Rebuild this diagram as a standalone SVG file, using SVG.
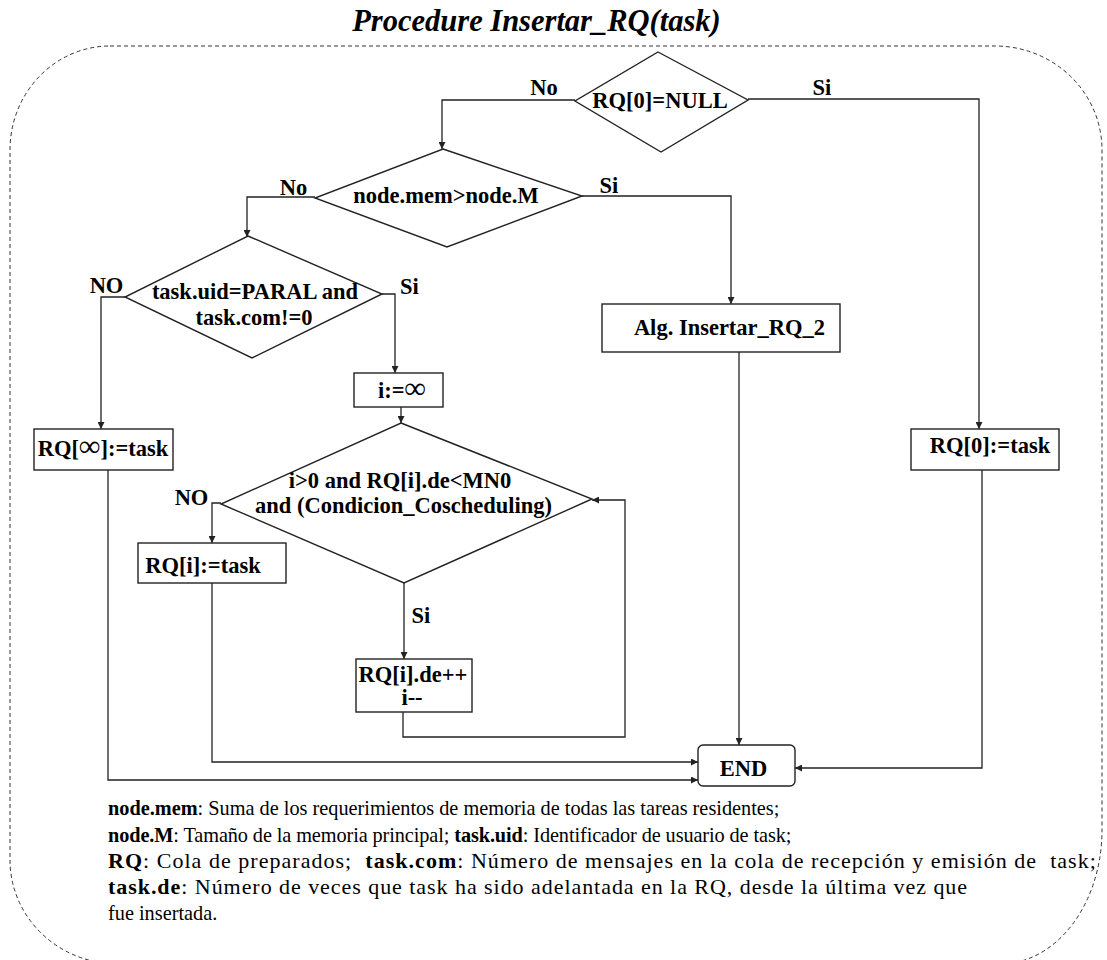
<svg xmlns="http://www.w3.org/2000/svg" width="1107" height="960" viewBox="0 0 1107 960">
  <style>
    .frame { fill: none; stroke: #333; stroke-width: 1; stroke-dasharray: 4 3; }
    .shape { fill: #fff; stroke: #222; stroke-width: 1.4; }
    .edge { fill: none; stroke: #222; stroke-width: 1.3; }
    .lbl { font-family: "Liberation Serif", "Times New Roman", serif; font-weight: bold; font-size: 22.5px; fill: #000; text-anchor: middle; }
    .inf { font-size: 30px; }
    .title { font-family: "Liberation Serif", "Times New Roman", serif; font-weight: bold; font-style: italic; font-size: 30.5px; fill: #000; text-anchor: middle; }
    .note { font-family: "Liberation Serif", "Times New Roman", serif; font-size: 20.3px; fill: #000; }
    .note .tight { letter-spacing: -0.1px; }
    .note .wide { font-size: 22px; letter-spacing: 0.95px; }
    .note .wider { font-size: 22px; letter-spacing: 1.03px; }
    .note .b { font-weight: bold; }
  </style>
  <defs>
    <marker id="arrow" viewBox="0 0 10 10" refX="10" refY="5" markerWidth="7" markerHeight="7" markerUnits="userSpaceOnUse" orient="auto">
      <path d="M0,0 L10,5 L0,10 Z" fill="#222"/>
    </marker>
  </defs>

  <rect width="1107" height="960" fill="#fff"/>

  <text class="title" x="536.5" y="31">Procedure Insertar_RQ(task)</text>

  <!-- dashed outline of the procedure -->
  <path class="frame" d="M110,46 H995 A107,104 0 0 1 1102,150 V830 A102,134 0 0 1 1000,964 H118 A108,104 0 0 1 10,860 V150 A100,104 0 0 1 110,46 Z"/>

  <!-- connectors -->
  <g id="connectors">
    <path class="edge" d="M575,100 H442 V149" marker-end="url(#arrow)"/>
    <path class="edge" d="M748,99 H979 V429" marker-end="url(#arrow)"/>
    <path class="edge" d="M315,197 H247 V237" marker-end="url(#arrow)"/>
    <path class="edge" d="M582,196 H731 V304" marker-end="url(#arrow)"/>
    <path class="edge" d="M125,297 H101 V429" marker-end="url(#arrow)"/>
    <path class="edge" d="M382,294 H395 V373" marker-end="url(#arrow)"/>
    <path class="edge" d="M401,407 V423" marker-end="url(#arrow)"/>
    <path class="edge" d="M221,503 H212 V543" marker-end="url(#arrow)"/>
    <path class="edge" d="M404,583 V659" marker-end="url(#arrow)"/>
    <path class="edge" d="M403,712 V737 H625 V500 H592" marker-end="url(#arrow)"/>
    <path class="edge" d="M212,583 V762 H698" marker-end="url(#arrow)"/>
    <path class="edge" d="M108,470 V780 H698" marker-end="url(#arrow)"/>
    <path class="edge" d="M739,352 V745" marker-end="url(#arrow)"/>
    <path class="edge" d="M982,470 V768 H795" marker-end="url(#arrow)"/>

    <text class="lbl" x="544" y="95">No</text>
    <text class="lbl" x="822" y="95">Si</text>
    <text class="lbl" x="293.5" y="195">No</text>
    <text class="lbl" x="609" y="193">Si</text>
    <text class="lbl" x="106.5" y="293">NO</text>
    <text class="lbl" x="409.5" y="294">Si</text>
    <text class="lbl" x="191.5" y="505">NO</text>
    <text class="lbl" x="421" y="623">Si</text>
  </g>

  <g id="rq0-null">
    <polygon class="shape" points="658,52 748,100 661,152 575,101"/>
    <text class="lbl" x="660" y="108">RQ[0]=NULL</text>
  </g>

  <g id="mem-check">
    <polygon class="shape" points="443,149 582,196 447,247 315,198"/>
    <text class="lbl" x="446" y="203">node.mem&gt;node.M</text>
  </g>

  <g id="paral-check">
    <polygon class="shape" points="248,236 382,294 252,358 125,297"/>
    <text class="lbl" x="255" y="299">task.uid=PARAL and</text>
    <text class="lbl" x="254" y="325">task.com!=0</text>
  </g>

  <g id="init-i">
    <rect class="shape" x="354" y="373" width="89" height="34"/>
    <text class="lbl" x="402" y="398">i:=<tspan class="inf">∞</tspan></text>
  </g>

  <g id="loop-check">
    <polygon class="shape" points="401,423 592,499 404,583 221,504"/>
    <text class="lbl" x="400" y="488">i&gt;0 and RQ[i].de&lt;MN0</text>
    <text class="lbl" x="403.5" y="513">and (Condicion_Coscheduling)</text>
  </g>

  <g id="rq-inf">
    <rect class="shape" x="34" y="429" width="139" height="41"/>
    <text class="lbl" x="103" y="456">RQ[<tspan class="inf">∞</tspan>]:=task</text>
  </g>

  <g id="alg-insertar">
    <rect class="shape" x="602" y="304" width="238" height="48"/>
    <text class="lbl" x="729.5" y="335">Alg. Insertar_RQ_2</text>
  </g>

  <g id="rq0-task">
    <rect class="shape" x="911" y="429" width="148" height="41"/>
    <text class="lbl" x="990" y="453">RQ[0]:=task</text>
  </g>

  <g id="rqi-task">
    <rect class="shape" x="138" y="543" width="148" height="40"/>
    <text class="lbl" x="203" y="573">RQ[i]:=task</text>
  </g>

  <g id="advance">
    <rect class="shape" x="356" y="659" width="116" height="53"/>
    <text class="lbl" x="413" y="682">RQ[i].de++</text>
    <text class="lbl" x="412" y="705">i--</text>
  </g>

  <g id="end">
    <rect class="shape" x="698" y="745" width="97" height="41" rx="5"/>
    <text class="lbl" x="743.5" y="776">END</text>
  </g>

  <!-- glossary -->
  <g id="glossary" class="note">
    <text x="108" y="815"><tspan class="b">node.mem</tspan>: Suma de los requerimientos de memoria de todas las tareas residentes;</text>
    <text class="tight" x="108" y="842"><tspan class="b">node.M</tspan>: Tamaño de la memoria principal; <tspan class="b">task.uid</tspan>: Identificador de usuario de task;</text>
    <text class="wider" x="108" y="868" xml:space="preserve"><tspan class="b">RQ</tspan>: Cola de preparados;  <tspan class="b">task.com</tspan>: Número de mensajes en la cola de recepción y emisión de  task;</text>
    <text class="wide" x="108" y="894"><tspan class="b">task.de</tspan>: Número de veces que task ha sido adelantada en la RQ, desde la última vez que</text>
    <text x="108" y="920">fue insertada.</text>
  </g>
</svg>
